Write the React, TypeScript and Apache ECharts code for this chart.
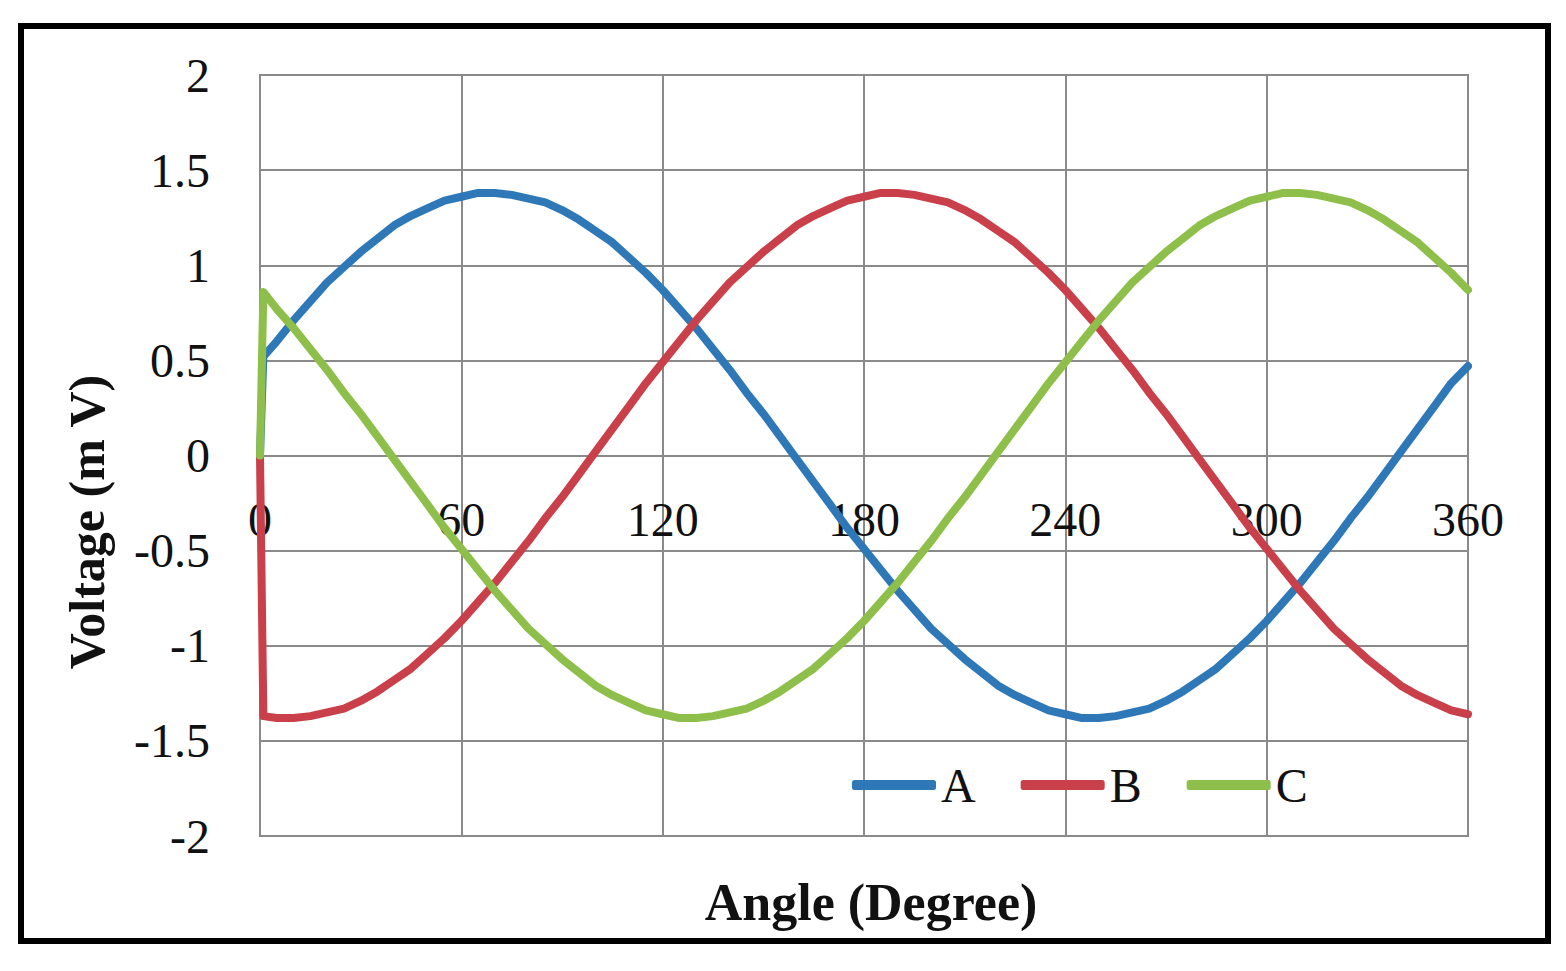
import React, { useEffect, useRef } from "react";
import * as echarts from "echarts";

// Angle samples (degrees)
const angles = [0, 1, 5, 10, 15, 20, 25, 30, 35, 40, 45, 50, 55, 60, 65, 70, 75, 80, 85, 90, 95, 100, 105, 110, 115, 120, 125, 130, 135, 140, 145, 150, 155, 160, 165, 170, 175, 180, 185, 190, 195, 200, 205, 210, 215, 220, 225, 230, 235, 240, 245, 250, 255, 260, 265, 270, 275, 280, 285, 290, 295, 300, 305, 310, 315, 320, 325, 330, 335, 340, 345, 350, 355, 360];

// Phase voltages (mV)
const seriesA = [0, 0.52, 0.6, 0.71, 0.81, 0.91, 0.99, 1.07, 1.14, 1.21, 1.26, 1.3, 1.34, 1.36, 1.38, 1.38, 1.37, 1.35, 1.33, 1.29, 1.24, 1.18, 1.12, 1.04, 0.96, 0.87, 0.77, 0.67, 0.56, 0.45, 0.33, 0.22, 0.1, -0.02, -0.14, -0.26, -0.38, -0.49, -0.6, -0.71, -0.81, -0.91, -0.99, -1.07, -1.14, -1.21, -1.26, -1.3, -1.34, -1.36, -1.38, -1.38, -1.37, -1.35, -1.33, -1.29, -1.24, -1.18, -1.12, -1.04, -0.96, -0.87, -0.77, -0.67, -0.56, -0.45, -0.33, -0.22, -0.1, 0.02, 0.14, 0.26, 0.38, 0.47];
const seriesB = [0, -1.37, -1.38, -1.38, -1.37, -1.35, -1.33, -1.29, -1.24, -1.18, -1.12, -1.04, -0.96, -0.87, -0.77, -0.67, -0.56, -0.45, -0.33, -0.22, -0.1, 0.02, 0.14, 0.26, 0.38, 0.49, 0.6, 0.71, 0.81, 0.91, 0.99, 1.07, 1.14, 1.21, 1.26, 1.3, 1.34, 1.36, 1.38, 1.38, 1.37, 1.35, 1.33, 1.29, 1.24, 1.18, 1.12, 1.04, 0.96, 0.87, 0.77, 0.67, 0.56, 0.45, 0.33, 0.22, 0.1, -0.02, -0.14, -0.26, -0.38, -0.49, -0.6, -0.71, -0.81, -0.91, -0.99, -1.07, -1.14, -1.21, -1.26, -1.3, -1.34, -1.36];
const seriesC = [0, 0.86, 0.77, 0.67, 0.56, 0.45, 0.33, 0.22, 0.1, -0.02, -0.14, -0.26, -0.38, -0.49, -0.6, -0.71, -0.81, -0.91, -0.99, -1.07, -1.14, -1.21, -1.26, -1.3, -1.34, -1.36, -1.38, -1.38, -1.37, -1.35, -1.33, -1.29, -1.24, -1.18, -1.12, -1.04, -0.96, -0.87, -0.77, -0.67, -0.56, -0.45, -0.33, -0.22, -0.1, 0.02, 0.14, 0.26, 0.38, 0.49, 0.6, 0.71, 0.81, 0.91, 0.99, 1.07, 1.14, 1.21, 1.26, 1.3, 1.34, 1.36, 1.38, 1.38, 1.37, 1.35, 1.33, 1.29, 1.24, 1.18, 1.12, 1.04, 0.96, 0.87];

const seriesNames = ["A", "B", "C"];
const seriesColors = ["#2f78b8", "#c9404a", "#8dbf4a"];
const xTitle = "Angle (Degree)";
const yTitle = "Voltage (m V)";

const FONT = "'Liberation Serif', 'Times New Roman', serif";

export default function App() {
  const ref = useRef<HTMLDivElement>(null);

  useEffect(() => {
    const chart = echarts.init(ref.current!, null, { renderer: "svg" });
    const all = [seriesA, seriesB, seriesC];

    chart.setOption({
      animation: false,
      backgroundColor: "#ffffff",
      grid: {
        left: 260,
        right: 98,
        top: 75,
        bottom: 135,
        show: true,
        borderColor: "#8a8a8a",
        borderWidth: 2,
        containLabel: false,
      },
      xAxis: {
        type: "value",
        min: 0,
        max: 360,
        interval: 60,
        offset: -381,
        axisLine: { show: false, onZero: false },
        axisTick: { show: false },
        axisLabel: { color: "#111", fontFamily: FONT, fontSize: 48, margin: 40 },
        splitLine: { show: true, lineStyle: { color: "#8a8a8a", width: 2 } },
      },
      yAxis: {
        type: "value",
        min: -2,
        max: 2,
        interval: 0.5,
        axisLine: { show: true, lineStyle: { color: "#8a8a8a", width: 2 } },
        axisTick: { show: false },
        axisLabel: { color: "#111", fontFamily: FONT, fontSize: 48, margin: 50 },
        splitLine: { show: true, lineStyle: { color: "#8a8a8a", width: 2 } },
      },
      legend: {
        data: seriesNames,
        left: 852,
        top: 761,
        padding: 0,
        itemGap: 45,
        itemWidth: 84,
        itemHeight: 10,
        icon: "roundRect",
        textStyle: { color: "#111", fontFamily: FONT, fontSize: 48, padding: [0, 0, 0, 0] },
      },
      series: seriesNames.map((name, k) => ({
        name,
        type: "line",
        data: angles.map((a, i) => [a, all[k][i]]),
        showSymbol: false,
        symbol: "none",
        smooth: false,
        color: seriesColors[k],
        lineStyle: { color: seriesColors[k], width: 8, cap: "round", join: "round" },
        itemStyle: { color: seriesColors[k] },
      })),
      graphic: [
        {
          type: "rect",
          shape: { x: 21, y: 26, width: 1527, height: 915 },
          style: { fill: "none", stroke: "#000", lineWidth: 6 },
          z: 100,
        },
        {
          type: "text",
          x: 871,
          y: 902,
          style: {
            text: xTitle,
            fill: "#111",
            font: `bold 52px ${FONT}`,
            textAlign: "center",
            textVerticalAlign: "middle",
          },
        },
        {
          type: "text",
          x: 87,
          y: 522,
          rotation: Math.PI / 2,
          style: {
            text: yTitle,
            fill: "#111",
            font: `bold 50px ${FONT}`,
            textAlign: "center",
            textVerticalAlign: "middle",
          },
        },
      ],
    });
    return () => chart.dispose();
  }, []);

  return (
    <div
      ref={ref}
      style={{ position: "absolute", left: 0, top: 0, width: 1566, height: 971, background: "#fff" }}
    />
  );
}
